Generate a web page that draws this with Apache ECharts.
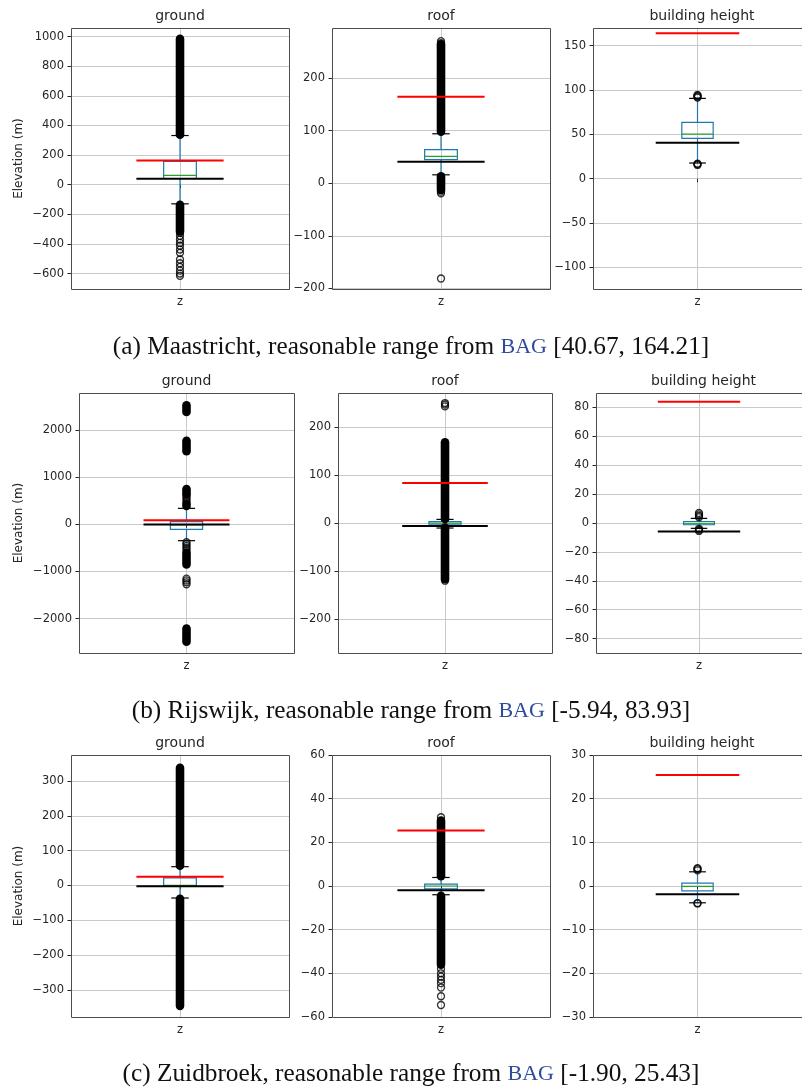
<!DOCTYPE html>
<html><head><meta charset="utf-8">
<script src="https://cdn.jsdelivr.net/npm/echarts@6/dist/echarts.min.js"></script>
<style>html,body{margin:0;padding:0;background:#fff}#c{width:802px;height:1091px}</style>
</head><body><div id="c"></div>
<script>
// ---------------- DATA ----------------
const cities = ['Maastricht', 'Rijswijk', 'Zuidbroek'];
const captionLetters = ['(a)', '(b)', '(c)'];
const panelTitles = ['ground', 'roof', 'building height'];
const xCategory = 'z';
const yLabel = 'Elevation (m)';
// reasonable range from BAG [lower, upper]
const bagMaastricht = [40.67, 164.21];
const bagRijswijk = [-5.94, 83.93];
const bagZuidbroek = [-1.90, 25.43];

// box stats: [lower whisker, Q1, median, Q3, upper whisker]
const boxA_ground = [-129, 42, 63, 158, 332];
const boxA_roof = [16, 45, 51, 64, 94];
const boxA_height = [17.7, 45.5, 50.4, 63.5, 90.6];
const boxB_ground = [-347, -106, -15, 56, 338];
const boxB_roof = [-10, -2, 0.5, 3.5, 8];
const boxB_height = [-3.7, -1.2, -0.5, 0.9, 3.2];
const boxC_ground = [-36, -1, 0.5, 21.8, 54];
const boxC_roof = [-4, -1.3, 0, 0.9, 3.9];
const boxC_height = [-3.85, -1.1, -0.1, 0.65, 3.25];

// densely packed outliers: [from, to]
const denseA_ground = [[338, 985], [-316, -135]];
const denseA_roof = [[98, 264], [-13, 13]];
const denseA_height = [];
const denseB_ground = [[650, 745], [390, 430], [1550, 1770], [2380, 2520], [-850, -600], [-2490, -2210]];
const denseB_roof = [[9, 169], [-117, -9]];
const denseB_height = [];
const denseC_ground = [[57, 338], [-346, -38]];
const denseC_roof = [[4.5, 30], [-36, -4.5]];
const denseC_height = [];

// individual outliers
const outA_ground = [-325, -345, -370, -392, -412, -438, -460, -505, -530, -555, -580, -600, -615];
const outA_roof = [258, 266, 270, -16, -19, -181];
const outA_height = [91.5, 92.5, 93.5, 94.5, 15.5, 16.5, 17];
const outB_ground = [470, 510, 550, 590, 620, -380, -420, -460, -500, -545, -1150, -1190, -1230, -1270];
const outB_roof = [244, 248, 251, -120];
const outB_height = [4, 5, 6, 7, -4, -4.8, -5.5];
const outC_ground = [];
const outC_roof = [29, 31.5, -38, -40, -41.5, -43, -44.5, -46.5, -50.5, -54.5];
const outC_height = [3.6, 3.9, 4.1, -3.9, -4.0];

// y axis extents and tick labels
const yRangeA_ground = [-704, 1058], ticksA_ground = [-600, -400, -200, 0, 200, 400, 600, 800, 1000];
const yRangeA_roof = [-201, 295], ticksA_roof = [-200, -100, 0, 100, 200];
const yRangeA_height = [-124.4, 170], ticksA_height = [-100, -50, 0, 50, 100, 150];
const yRangeB_ground = [-2727, 2782], ticksB_ground = [-2000, -1000, 0, 1000, 2000];
const yRangeB_roof = [-271, 272], ticksB_roof = [-200, -100, 0, 100, 200];
const yRangeB_height = [-90, 90], ticksB_height = [-80, -60, -40, -20, 0, 20, 40, 60, 80];
const yRangeC_ground = [-378, 375], ticksC_ground = [-300, -200, -100, 0, 100, 200, 300];
const yRangeC_roof = [-60, 60], ticksC_roof = [-60, -40, -20, 0, 20, 40, 60];
const yRangeC_height = [-30, 30], ticksC_height = [-30, -20, -10, 0, 10, 20, 30];

// ---------------- ASSEMBLY ----------------
const panels = [
  [boxA_ground, denseA_ground, outA_ground, yRangeA_ground, ticksA_ground, bagMaastricht],
  [boxA_roof, denseA_roof, outA_roof, yRangeA_roof, ticksA_roof, bagMaastricht],
  [boxA_height, denseA_height, outA_height, yRangeA_height, ticksA_height, bagMaastricht],
  [boxB_ground, denseB_ground, outB_ground, yRangeB_ground, ticksB_ground, bagRijswijk],
  [boxB_roof, denseB_roof, outB_roof, yRangeB_roof, ticksB_roof, bagRijswijk],
  [boxB_height, denseB_height, outB_height, yRangeB_height, ticksB_height, bagRijswijk],
  [boxC_ground, denseC_ground, outC_ground, yRangeC_ground, ticksC_ground, bagZuidbroek],
  [boxC_roof, denseC_roof, outC_roof, yRangeC_roof, ticksC_roof, bagZuidbroek],
  [boxC_height, denseC_height, outC_height, yRangeC_height, ticksC_height, bagZuidbroek]
];
const bagSets = [bagMaastricht, bagRijswijk, bagZuidbroek];

// layout: [left, top, width, height]
const layout = [
  [71, 28, 218, 261], [332, 28, 218, 261], [593, 28, 218, 261],
  [79, 393, 215, 260], [338, 393, 214, 260], [596, 393, 215, 260],
  [71, 755, 218, 262], [332, 755, 218, 262], [593, 755, 218, 262]
];
const captionY = [347, 711, 1074];
const SANS = 'DejaVu Sans';
const SERIF = 'Liberation Serif';
const TXT = '#262626';
const GRIDC = '#c9c9c9';

const fmtNum = v => (v < 0 ? '\u2212' + (-v) : String(v));

const grids = [], xAxes = [], yAxes = [], series = [], elements = [];

panels.forEach((p, i) => {
  const [box, dense, outs, yr, ticks, bag] = p;
  const [l, t, w, h] = layout[i];
  grids.push({left: l, top: t, width: w, height: h, show: false});
  xAxes.push({
    gridIndex: i, type: 'value', min: 0.5, max: 1.5, minInterval: 1, maxInterval: 1,
    axisLine: {show: false},
    axisTick: {show: true, customValues: [1], length: 3.5, lineStyle: {color: TXT, width: 1}},
    axisLabel: {customValues: [1], formatter: v => (v === 1 ? xCategory : ''), color: TXT,
      fontFamily: SANS, fontSize: 11.5, margin: 7},
    splitLine: {show: true, lineStyle: {color: GRIDC, width: 1}}
  });
  const iv = ticks[1] - ticks[0];
  yAxes.push({
    gridIndex: i, type: 'value', min: yr[0], max: yr[1], minInterval: iv, maxInterval: iv,
    axisLine: {show: false},
    axisTick: {show: true, customValues: ticks, length: 3.5, lineStyle: {color: TXT, width: 1}},
    axisLabel: {customValues: ticks, formatter: v => (ticks.indexOf(v) >= 0 ? fmtNum(v) : ''),
      color: TXT, fontFamily: SANS, fontSize: 11.5, margin: 7},
    splitLine: {show: true, lineStyle: {color: GRIDC, width: 1}}
  });

  // box + whiskers + caps + median
  series.push({
    type: 'custom', xAxisIndex: i, yAxisIndex: i, z: 2, silent: true,
    data: [[1].concat(box)],
    encode: {x: 0, y: [1, 2, 3, 4, 5]},
    renderItem: (params, api) => {
      const band = api.size([1, 0])[0];
      const bw = band * 0.075, cw = band * 0.04;
      const c = k => api.coord([api.value(0), api.value(k)]);
      const lo = c(1), q1 = c(2), md = c(3), q3 = c(4), hi = c(5);
      const cx = lo[0];
      const blue = {stroke: '#1f77b4', lineWidth: 1.2, fill: 'none'};
      return {type: 'group', children: [
        {type: 'line', shape: {x1: cx, y1: q1[1], x2: cx, y2: lo[1]}, style: blue},
        {type: 'line', shape: {x1: cx, y1: q3[1], x2: cx, y2: hi[1]}, style: blue},
        {type: 'rect', shape: {x: cx - bw, y: q3[1], width: 2 * bw, height: q1[1] - q3[1]}, style: blue},
        {type: 'line', shape: {x1: cx - bw, y1: md[1], x2: cx + bw, y2: md[1]}, style: {stroke: '#2ca02c', lineWidth: 1.2}},
        {type: 'line', shape: {x1: cx - cw, y1: lo[1], x2: cx + cw, y2: lo[1]}, style: {stroke: '#000', lineWidth: 1.2}},
        {type: 'line', shape: {x1: cx - cw, y1: hi[1], x2: cx + cw, y2: hi[1]}, style: {stroke: '#000', lineWidth: 1.2}}
      ]};
    }
  });

  // densely packed outliers
  series.push({
    type: 'custom', xAxisIndex: i, yAxisIndex: i, z: 3, silent: true,
    data: dense.map(r => [1, r[0], r[1]]),
    encode: {x: 0, y: [1, 2]},
    renderItem: (params, api) => {
      const a = api.coord([api.value(0), api.value(1)]);
      const b = api.coord([api.value(0), api.value(2)]);
      return {type: 'line', shape: {x1: a[0], y1: a[1], x2: b[0], y2: b[1]},
        style: {stroke: '#000', lineWidth: 8.6, lineCap: 'round'}};
    }
  });

  // individual outliers
  series.push({
    type: 'scatter', xAxisIndex: i, yAxisIndex: i, z: 3, silent: true,
    symbol: 'circle', symbolSize: 7,
    itemStyle: {color: 'rgba(0,0,0,0)', borderColor: '#000', borderWidth: 1.3},
    data: outs.map(v => [1, v])
  });

  // BAG range lines (lower black, upper red)
  series.push({
    type: 'custom', xAxisIndex: i, yAxisIndex: i, z: 4, silent: true,
    data: bag.map((v, k) => [1, v, k]),
    encode: {x: 0, y: 1},
    renderItem: (params, api) => {
      const band = api.size([1, 0])[0];
      const c = api.coord([api.value(0), api.value(1)]);
      const half = band * 0.2;
      return {type: 'line', shape: {x1: c[0] - half, y1: c[1], x2: c[0] + half, y2: c[1]},
        style: {stroke: api.value(2) === 1 ? '#ff0000' : '#000000', lineWidth: 2}};
    }
  });

  // frame
  elements.push({type: 'rect', z: 100, silent: true,
    shape: {x: l + 0.5, y: t + 0.5, width: w, height: h},
    style: {fill: 'none', stroke: '#4d4d4d', lineWidth: 1}});
  // panel title
  elements.push({type: 'text', z: 100, silent: true, x: l + w / 2, y: t - 12,
    style: {text: panelTitles[i % 3], fontFamily: SANS, fontSize: 14, fill: TXT,
      align: 'center', verticalAlign: 'middle', textAlign: 'center', textVerticalAlign: 'middle'}});
  if (i % 3 === 0) {
    elements.push({type: 'text', z: 100, silent: true, x: 19, y: t + h / 2, rotation: Math.PI / 2,
      style: {text: yLabel, fontFamily: SANS, fontSize: 12, fill: TXT,
        align: 'center', verticalAlign: 'middle', textAlign: 'center', textVerticalAlign: 'middle'}});
  }
});

// captions
cities.forEach((city, r) => {
  const bag = bagSets[r];
  const pre = captionLetters[r] + ' ' + city + ', reasonable range from ';
  const post = ' [' + bag[0].toFixed(2) + ', ' + bag[1].toFixed(2) + ']';
  elements.push({type: 'text', z: 100, silent: true, x: 411, y: captionY[r],
    style: {
      text: '{n|' + pre + '}{b|BAG}{n|' + post + '}',
      rich: {
        n: {fontFamily: SERIF, fontSize: 25.3, fill: '#111', color: '#111'},
        b: {fontFamily: SERIF, fontSize: 22, fill: '#2f4b9c', color: '#2f4b9c'}
      },
      align: 'center', verticalAlign: 'middle', textAlign: 'center', textVerticalAlign: 'middle'
    }});
});

const chart = echarts.init(document.getElementById('c'), null, {renderer: 'canvas'});
chart.setOption({
  animation: false,
  backgroundColor: '#ffffff',
  grid: grids, xAxis: xAxes, yAxis: yAxes, series: series,
  graphic: {elements: elements}
});
</script></body></html>
